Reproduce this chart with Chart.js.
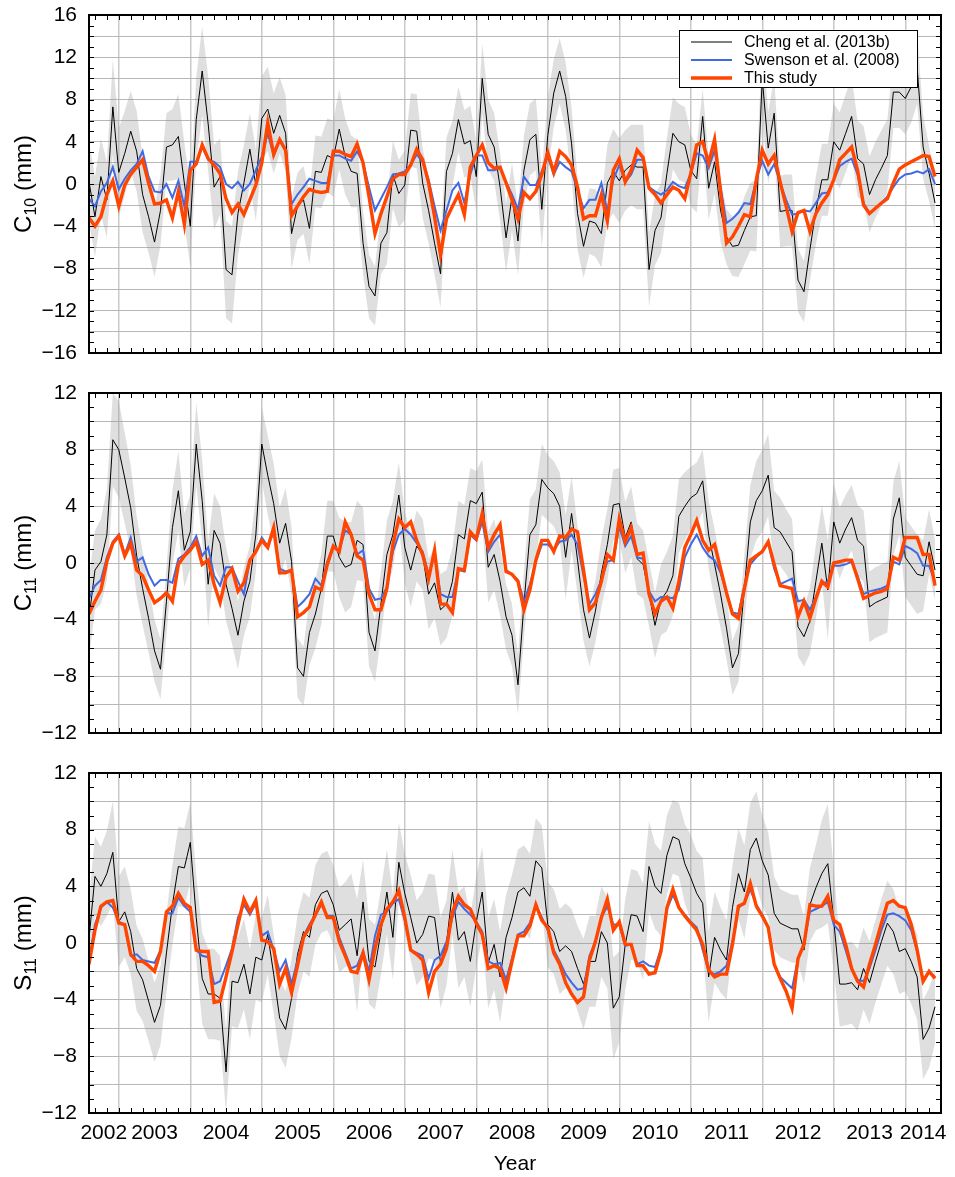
<!DOCTYPE html>
<html lang="en">
<head>
  <meta charset="UTF-8" />
  <title>C10, C11, S11 comparison</title>
  <script src="https://cdn.jsdelivr.net/npm/chart.js"></script>
  <style>
body {
  margin: 0;
  background: #fff;
}

.panel {
  position: absolute;
  left: 0;
  width: 955px;
}

#p1 { top: 0; }
#p2 { top: 380px; }
#p3 { top: 760px; }
  </style>
</head>
<body>
<div class="panel" id="p1"><canvas id="gC10" width="955" height="380"></canvas></div>
<div class="panel" id="p2"><canvas id="gC11" width="955" height="380"></canvas></div>
<div class="panel" id="p3"><canvas id="gS11" width="955" height="417"></canvas></div>

<script>
// monthly samples, Aug 2002 .. Jun 2014
const firstMonth = 2002 + 7 / 12;
const nMonths = 143;
const months = [];
for (let k = 0; k < nMonths; k++) months.push(firstMonth + k / 12);

// x axis: grid at year starts, labels in the middle of each (visible) year
const yearTicks = [2003, 2004, 2005, 2006, 2007, 2008, 2009, 2010, 2011, 2012, 2013, 2014];
const yearLabels = ['2002', '2003', '2004', '2005', '2006', '2007', '2008', '2009', '2010', '2011', '2012', '2013', '2014'];
const yearLabelPos = [2002.79, 2003.5, 2004.5, 2005.5, 2006.5, 2007.5, 2008.5, 2009.5, 2010.5, 2011.5, 2012.5, 2013.5, 2014.25];

const seriesNames = ['Cheng et al. (2013b)', 'Swenson et al. (2008)', 'This study'];

// ---- C10 (mm) ----
const c10Cheng = [
  0.2, -3.1, 0.7, -1.5, 7.3, 1.1, 2.9, 5.0, 3.1, -1.0,
  -3.1, -5.5, -2.5, 3.5, 3.7, 4.5, 0.1, -4.0, 6.1, 10.7,
  5.7, -0.3, 0.7, -8.1, -8.6, -2.8, 0.1, 3.3, -0.1, 6.2,
  7.1, 4.8, 6.5, 4.8, -4.7, -2.1, -1.5, -4.2, 1.2, 1.1,
  2.7, 2.4, 5.2, 2.6, 1.2, 1.0, -5.6, -9.7, -10.6, -5.6,
  -4.6, 0.9, -0.9, -0.1, 5.1, 5.0, 0.1, -2.5, -5.6, -8.5,
  1.2, 2.9, 6.1, 3.8, 4.1, 0.7, 10.0, 4.7, 3.5, -0.3,
  -5.1, -1.2, -5.4, 1.3, 4.2, 4.7, -2.4, 4.6, 8.6, 10.7,
  8.3, 3.8, -2.8, -5.9, -3.5, -3.7, -4.7, 0.1, 1.2, 0.3,
  1.3, 1.8, 1.6, 1.6, -8.1, -4.4, -3.2, 1.0, 4.8, 4.0,
  3.7, 1.3, 0.5, 6.4, -0.4, 2.1, -2.5, -5.0, -5.9, -5.8,
  -4.4, -3.1, -3.0, 10.0, 3.4, 6.7, -2.6, -2.5, -2.5, -9.1,
  -10.2, -6.2, -2.5, 0.4, 0.4, 4.0, 3.2, 4.8, 6.4, 2.4,
  1.9, -1.0, 0.4, 1.5, 2.7, 8.7, 8.7, 8.1, 9.2, 11.0,
  3.5, 1.0, -1.8
];
const c10Err = [
  3.8, 3.8, 3.6, 3.6, 4.5, 4.2, 4.0, 3.8, 3.8, 3.6,
  3.4, 3.3, 3.3, 3.2, 3.4, 4.0, 3.8, 3.8, 4.0, 4.2,
  4.5, 4.0, 3.6, 4.6, 4.6, 4.0, 3.6, 3.4, 3.4, 4.0,
  4.0, 3.8, 3.6, 3.6, 3.3, 3.2, 3.2, 3.4, 3.4, 3.4,
  3.5, 3.6, 3.8, 3.6, 3.4, 3.2, 3.0, 3.0, 2.8, 2.9,
  3.0, 3.2, 3.2, 3.3, 3.5, 3.5, 3.3, 3.1, 3.0, 3.2,
  3.2, 3.1, 3.1, 3.2, 3.3, 3.3, 3.3, 3.3, 3.2, 3.2,
  3.2, 3.2, 3.2, 3.3, 3.4, 3.4, 3.6, 3.6, 3.2, 3.1,
  3.2, 3.4, 3.4, 3.0, 3.1, 3.2, 3.2, 3.6, 4.0, 4.0,
  3.8, 3.8, 4.0, 4.0, 3.5, 3.3, 3.3, 3.4, 3.4, 3.6,
  3.6, 3.4, 3.2, 2.6, 3.0, 3.0, 3.0, 2.6, 2.8, 3.0,
  3.2, 3.2, 3.4, 3.6, 3.4, 3.4, 3.4, 3.4, 3.4, 3.0,
  2.9, 3.0, 3.2, 3.4, 3.4, 3.6, 3.6, 3.7, 3.7, 3.6,
  3.6, 3.6, 3.6, 3.6, 3.4, 3.4, 3.4, 3.4, 3.4, 3.4,
  3.0, 2.6, 2.4
];
const c10Swenson = [
  -1.4, -2.1, -0.7, 0.1, 1.6, -0.5, 0.5, 1.3, 1.9, 3.1,
  0.7, -0.7, -0.8, 0.0, -1.3, 0.3, -2.1, 2.1, 2.1, 3.5,
  2.3, 2.1, 1.6, 0.0, -0.4, 0.2, -0.6, 0.0, 1.3, 2.6,
  4.8, 2.7, 4.2, 3.1, -1.9, -1.0, -0.3, 0.5, 0.3, 0.1,
  0.1, 2.7, 2.7, 2.4, 2.2, 3.1, 2.0, -0.3, -2.5, -1.4,
  -0.3, 0.9, 1.0, 1.2, 1.8, 2.8, 2.1, 0.4, -2.1, -4.4,
  -2.5, -0.6, 0.1, -1.8, 0.9, 2.7, 2.7, 1.3, 1.3, 1.5,
  0.2, -1.0, -2.4, 0.7, -0.1, -0.1, 1.2, 2.6, 0.9, 2.1,
  1.6, 1.2, -0.6, -2.3, -1.5, -1.5, 0.1, -2.6, 0.4, 1.8,
  0.2, 0.9, 2.3, 2.3, -0.3, -0.7, -1.0, -0.6, 0.2, -0.2,
  -0.4, 1.0, 2.9, 2.7, 1.5, 3.2, -0.3, -3.7, -3.3, -2.7,
  -1.8, -1.9, 0.4, 2.2, 0.9, 1.9, 0.1, -1.5, -2.9, -2.8,
  -2.5, -2.6, -1.8, -0.9, -0.8, 0.4, 1.7, 2.1, 2.4, 0.9,
  -1.8, -2.8, -2.3, -1.8, -1.2, -0.3, 0.5, 0.9, 1.0, 1.2,
  1.0, 1.4, 0.0
];
const c10This = [
  -3.2, -4.0, -3.1, -1.0, 0.3, -2.1, -0.1, 0.9, 1.6, 2.3,
  0.1, -1.9, -1.8, -1.5, -3.2, -0.7, -3.8, 1.3, 1.9, 3.7,
  2.4, 1.8, 1.0, -1.4, -2.7, -1.9, -2.9, -1.5, -0.1, 2.0,
  5.8, 2.8, 4.2, 3.2, -3.0, -2.1, -1.2, -0.5, -0.7, -0.8,
  -0.7, 3.1, 3.1, 2.8, 2.6, 3.8, 2.0, -1.2, -4.7, -2.8,
  -1.2, 0.5, 0.9, 0.9, 1.8, 3.3, 2.3, 0.1, -3.1, -6.7,
  -3.3, -2.1, -1.0, -2.9, 1.6, 2.7, 3.7, 2.0, 1.5, 1.6,
  0.1, -1.5, -3.3, -0.8, -1.4, -0.7, 0.9, 3.0, 1.1, 3.1,
  2.6, 1.8, -0.3, -3.3, -3.0, -3.0, -1.0, -3.5, 1.3, 2.4,
  0.2, 1.3, 3.2, 2.5, -0.4, -1.0, -1.8, -1.0, -0.3, -0.6,
  -1.4, 1.0, 3.7, 4.0, 2.0, 4.2, -0.7, -5.6, -5.0, -4.0,
  -2.9, -3.1, 0.4, 3.2, 1.9, 2.7, 0.2, -2.1, -4.5, -2.7,
  -2.5, -4.5, -2.8, -1.8, -1.0, 0.4, 2.3, 2.9, 3.5, 1.3,
  -2.0, -2.8, -2.3, -1.8, -1.4, 0.1, 1.4, 1.8, 2.1, 2.4,
  2.7, 2.6, 0.7
];

// ---- C11 (mm) ----
const c11Cheng = [
  -3.9, -0.5, 0.1, 2.0, 8.7, 8.0, 6.0, 3.9, 0.5, -1.8,
  -3.9, -6.2, -7.5, -2.7, 2.5, 5.1, 0.9, 2.2, 8.4, 4.4,
  -1.5, 2.3, 1.4, -1.5, -3.2, -5.1, -2.7, -1.3, 2.0, 8.4,
  6.2, 4.2, 1.4, 2.8, 0.1, -7.4, -8.0, -4.9, -3.6, -1.8,
  1.9, 1.9, 0.4, -0.3, -0.1, 1.6, 1.3, -4.9, -6.2, -2.9,
  0.6, 2.0, 4.8, 1.1, -0.5, 1.2, 0.6, -2.2, -1.4, -3.3,
  -2.9, -1.3, 2.0, 1.7, 4.4, 4.2, 5.0, -0.3, 0.6, -1.3,
  -3.8, -5.1, -8.6, -2.9, 2.0, 2.7, 5.9, 5.3, 4.9, 4.0,
  0.4, 3.5, 0.2, -3.3, -5.3, -3.4, -0.7, 1.3, 4.1, 4.2,
  1.8, 2.9, 0.3, -0.1, -2.2, -4.4, -2.6, -2.0, -0.9, 3.3,
  4.0, 4.6, 4.9, 5.8, 2.0, -0.1, -2.2, -4.6, -7.4, -6.4,
  -1.8, 2.9, 4.4, 5.1, 6.2, 2.5, 2.2, 1.5, 0.8, -4.5,
  -5.2, -4.1, -1.3, 1.4, -1.9, 2.9, 1.4, 2.4, 3.2, 1.6,
  1.2, -3.1, -2.8, -2.6, -2.4, 3.1, 4.6, 0.4, -0.2, -0.8,
  -0.9, 1.5, -0.5
];
const c11Err = [
  2.8, 2.8, 3.0, 3.2, 3.3, 3.4, 3.2, 3.0, 2.8, 2.6,
  2.4, 2.2, 2.1, 2.4, 2.6, 2.8, 2.6, 2.6, 2.9, 2.9,
  3.0, 2.6, 2.6, 2.6, 2.5, 2.4, 2.4, 2.5, 2.6, 2.6,
  2.8, 2.8, 2.5, 2.5, 2.4, 2.1, 2.1, 2.3, 2.4, 2.5,
  2.5, 2.5, 2.8, 3.2, 3.0, 2.8, 2.6, 2.4, 2.2, 2.3,
  2.4, 2.4, 2.3, 2.5, 2.6, 2.5, 2.5, 2.5, 2.5, 2.5,
  2.4, 2.4, 2.4, 2.4, 2.3, 2.3, 2.3, 2.5, 2.5, 2.4,
  2.3, 2.2, 2.1, 2.4, 2.5, 2.5, 2.5, 2.3, 2.3, 2.4,
  3.0, 2.6, 2.4, 2.2, 2.0, 2.2, 2.4, 2.5, 2.5, 2.5,
  2.5, 2.5, 2.5, 2.4, 2.3, 2.3, 2.5, 2.8, 2.8, 2.6,
  2.4, 2.2, 2.2, 2.2, 2.4, 2.5, 2.4, 2.2, 1.9, 2.0,
  2.4, 2.6, 2.8, 2.9, 2.9, 2.6, 2.4, 2.3, 2.3, 2.1,
  2.1, 2.3, 2.6, 2.7, 3.5, 2.7, 2.5, 2.4, 2.3, 2.5,
  2.5, 2.5, 2.5, 2.5, 2.5, 2.6, 2.6, 2.8, 2.8, 2.8,
  2.5, 2.3, 2.1
];
const c11Swenson = [
  -2.5, -1.6, -1.2, 0.4, 1.5, 2.0, 0.6, 1.8, 0.1, 0.4,
  -0.8, -1.6, -1.2, -1.2, -1.4, 0.3, 0.6, 1.1, 1.9, 0.5,
  1.1, -0.9, -1.6, -0.3, -0.3, -1.3, -2.2, 0.2, 0.8, 1.8,
  1.2, 2.2, -0.4, -0.6, -0.5, -3.1, -2.7, -2.2, -1.1, -1.6,
  0.1, 1.2, 0.9, 2.3, 2.0, 0.6, 0.9, -1.8, -2.6, -2.5,
  -1.7, 0.8, 2.0, 2.4, 2.0, 1.4, 0.8, -0.8, 0.6, -2.2,
  -2.4, -2.4, -0.5, -0.6, 2.0, 1.6, 2.9, 0.8, 1.5, 2.0,
  -0.5, -0.8, -1.2, -2.7, -1.5, 0.1, 1.3, 1.3, 0.9, 1.5,
  1.6, 2.0, 1.3, -0.9, -2.9, -2.2, -1.2, 0.1, 0.2, 2.6,
  1.2, 1.9, 0.4, 0.3, -2.0, -2.7, -2.4, -2.4, -2.5, -1.9,
  0.4, 1.3, 2.0, 1.1, 0.5, 0.2, -0.7, -2.1, -3.5, -3.6,
  -1.6, -0.1, 0.4, 0.8, 1.5, -0.4, -1.5, -1.3, -1.1, -2.7,
  -2.6, -3.3, -2.4, -1.5, -1.3, -0.2, -0.2, -0.1, 0.1, -0.9,
  -2.2, -2.0, -1.9, -1.8, -1.6, 0.1, -0.1, 1.2, 1.0, 0.7,
  -0.2, -0.2, -1.3
];
const c11This = [
  -3.6, -2.7, -1.9, 0.1, 1.4, 1.9, 0.5, 1.4, -0.5, -0.9,
  -1.9, -2.8, -2.5, -2.1, -2.7, -0.1, 0.5, 0.9, 1.5, -0.1,
  0.2, -1.5, -2.8, -1.0, -0.4, -2.0, -1.4, 0.2, 0.8, 1.6,
  1.1, 2.5, -0.7, -0.7, -0.5, -3.8, -3.5, -3.1, -1.7, -1.9,
  -0.1, 1.2, 0.8, 2.9, 2.0, 0.5, 0.2, -2.2, -3.3, -3.3,
  -1.8, 1.3, 3.1, 2.5, 2.9, 1.6, 0.6, -1.1, 0.9, -2.9,
  -2.9, -3.5, -0.4, -0.5, 2.2, 1.7, 3.5, 1.1, 2.0, 2.7,
  -0.6, -0.8, -1.3, -3.3, -1.9, 0.2, 1.6, 1.6, 0.8, 1.9,
  1.8, 2.4, 2.2, -0.5, -3.3, -2.8, -1.3, 0.6, 0.2, 3.1,
  1.5, 2.5, 0.6, 0.7, -2.2, -3.6, -2.7, -2.4, -3.2, -1.3,
  1.1, 2.0, 3.0, 1.6, 0.9, 1.3, -0.4, -2.1, -3.6, -3.9,
  -1.8, 0.2, 0.5, 0.8, 1.5, -0.1, -1.6, -1.7, -1.8, -3.8,
  -2.7, -3.9, -2.5, -1.3, -1.7, 0.0, 0.1, 0.2, 0.2, -1.1,
  -2.5, -2.3, -2.1, -2.0, -1.8, 0.4, 0.2, 1.8, 1.8, 1.8,
  0.6, 0.6, -1.6
];

// ---- S11 (mm) ----
const s11Cheng = [
  0.3, 4.7, 4.0, 4.9, 6.4, 1.5, 2.2, 0.8, -1.8, -2.6,
  -4.1, -5.6, -4.4, -0.7, 2.7, 5.4, 5.3, 7.1, 1.8, -2.5,
  -3.6, -3.6, -3.9, -9.1, -2.7, -2.8, -1.5, -3.6, -1.0, -1.2,
  0.6, -2.2, -5.3, -6.1, -3.9, -0.8, 0.8, 0.4, 2.7, 3.5,
  3.7, 2.7, 0.9, 1.3, 1.7, -0.9, 2.9, -1.3, -1.7, 0.8,
  3.6, 0.4, 5.7, 3.5, 1.8, 0.0, 0.6, 1.9, 1.8, -1.4,
  0.0, 3.6, 0.2, 0.8, -1.3, 1.5, 3.6, -1.4, -0.1, -2.4,
  0.4, 1.8, 3.6, 3.9, 3.3, 5.8, 5.3, 1.3, 0.8, -0.6,
  -0.2, -0.6, -1.8, -2.9, -1.3, -1.3, 0.8, 0.0, -4.6, -3.8,
  -0.1, 2.0, 1.9, 0.8, 5.4, 4.0, 3.5, 6.2, 7.5, 7.3,
  5.6, 4.6, 3.5, 2.8, -2.4, 0.4, -0.5, -1.2, 2.5, 4.9,
  3.6, 6.6, 7.4, 5.8, 4.8, 2.1, 1.4, 1.2, 1.0, 1.0,
  -0.5, 2.7, 3.9, 4.9, 5.6, 1.6, -2.9, -2.9, -2.8, -3.3,
  -1.8, -2.8, -1.3, 0.1, 1.4, 0.8, -0.6, -0.4, -1.3, -2.4,
  -6.8, -6.0, -4.5
];
const s11Err = [
  2.8, 2.8, 2.8, 3.0, 3.6, 3.2, 3.2, 3.0, 3.0, 2.9,
  2.8, 2.8, 2.8, 2.8, 2.8, 2.8, 2.8, 2.8, 3.0, 3.2,
  3.2, 3.2, 3.0, 2.9, 3.2, 3.2, 3.2, 3.2, 3.0, 3.0,
  2.8, 2.8, 2.7, 2.7, 2.8, 2.8, 2.8, 2.8, 2.8, 2.8,
  2.8, 2.8, 3.0, 3.0, 3.2, 4.0, 3.0, 3.0, 3.0, 3.0,
  3.0, 3.0, 2.8, 2.8, 3.0, 3.0, 3.0, 3.0, 3.0, 3.2,
  3.0, 3.0, 3.4, 3.2, 3.2, 3.2, 3.2, 3.2, 3.2, 3.2,
  3.0, 3.0, 3.0, 3.0, 3.0, 3.0, 3.0, 3.0, 3.0, 3.0,
  3.0, 3.0, 3.0, 3.2, 3.2, 3.2, 3.2, 3.2, 3.6, 3.2,
  3.2, 3.2, 3.2, 3.4, 3.2, 3.0, 3.0, 2.8, 2.6, 2.6,
  2.8, 3.0, 3.0, 3.2, 3.2, 3.2, 3.0, 2.8, 3.0, 3.2,
  3.3, 3.3, 3.3, 3.2, 3.0, 2.6, 2.4, 2.4, 2.4, 2.4,
  2.4, 2.6, 3.0, 3.8, 4.2, 3.6, 3.0, 2.9, 2.9, 2.9,
  2.9, 2.9, 2.9, 3.0, 3.0, 3.0, 3.0, 3.0, 3.0, 3.0,
  2.8, 2.8, 2.6
];
const s11Swenson = [
  -1.3, 1.3, 2.5, 2.9, 2.5, 1.5, 1.3, -0.9, -0.8, -1.2,
  -1.3, -1.4, -0.5, 2.1, 2.1, 3.2, 2.6, 2.2, -0.5, -0.9,
  -1.0, -2.9, -2.7, -1.6, -0.4, 1.8, 2.7, 2.0, 2.8, 0.5,
  0.8, -0.5, -2.0, -1.2, -2.9, -1.2, 0.5, 1.3, 2.0, 2.7,
  1.9, 1.9, 0.4, -0.7, -1.8, -1.6, -0.6, -2.0, 0.5, 2.0,
  2.2, 2.8, 3.1, 1.6, -0.5, -0.7, -0.9, -2.5, -1.2, -0.9,
  0.1, 1.8, 2.9, 2.4, 2.0, 1.5, 0.8, -1.3, -1.5, -1.4,
  -2.6, -1.1, 0.6, 0.8, 1.4, 2.7, 1.8, 0.9, -0.5, -1.3,
  -2.2, -2.8, -3.3, -3.2, -0.9, 0.1, 1.8, 2.6, 1.3, 1.3,
  -0.2, -0.1, -1.5, -1.3, -1.6, -1.7, -0.4, 2.4, 3.4, 2.5,
  2.0, 1.5, 1.1, -0.5, -2.0, -2.2, -2.0, -1.6, 0.1, 2.5,
  2.8, 3.8, 2.7, 2.0, 1.1, -1.5, -2.4, -2.8, -3.2, -1.1,
  0.0, 2.2, 2.4, 2.6, 2.9, 1.3, 0.8, -0.5, -1.9, -2.6,
  -2.7, -1.8, -0.5, 0.9, 2.0, 2.1, 1.9, 1.6, 0.9, -0.6,
  -2.7, -2.0, -2.4
];
const s11This = [
  -1.5, 0.9, 2.6, 2.9, 3.0, 1.4, 1.3, -0.8, -1.3, -1.3,
  -1.6, -2.0, -0.6, 2.2, 2.6, 3.5, 2.8, 2.5, -0.5, -0.6,
  -0.6, -4.2, -4.1, -2.4, -0.6, 1.3, 3.1, 2.2, 3.0, 0.2,
  0.1, -0.4, -2.9, -1.8, -3.5, -1.6, 0.4, 1.1, 2.0, 2.9,
  1.8, 1.8, 0.1, -0.9, -2.0, -2.1, -0.7, -2.6, -0.4, 1.3,
  2.4, 2.9, 3.7, 1.8, -0.5, -0.8, -1.2, -3.5, -2.0, -1.5,
  -0.4, 2.2, 3.3, 2.7, 2.4, 1.4, 0.6, -1.8, -1.6, -1.8,
  -3.2, -1.3, 0.5, 0.5, 1.2, 2.7, 1.6, 1.1, -0.7, -1.5,
  -2.8, -3.6, -4.2, -3.8, -1.2, 0.1, 1.8, 3.1, 0.9, 1.5,
  -0.1, -0.1, -1.6, -1.6, -2.2, -2.1, -0.6, 2.5, 3.8, 2.5,
  1.9, 1.4, 0.9, -0.1, -1.9, -2.4, -2.2, -2.2, -0.1, 2.6,
  2.8, 4.2, 2.6, 1.9, 1.1, -1.5, -2.5, -3.4, -4.6, -1.1,
  -0.1, 2.7, 2.6, 2.6, 3.3, 1.6, 1.3, -0.1, -1.8, -2.7,
  -3.1, -1.5, -0.1, 1.4, 2.8, 3.0, 2.6, 2.5, 1.3, -0.5,
  -2.7, -2.0, -2.5
];

const FONT = "'Liberation Sans', Arial, Helvetica, sans-serif";
const TICK = 5;

const pts = (vals) => vals.map((v, k) => ({ x: months[k], y: v }));
const fmtY = (v) => (v < 0 ? '\u2212' + Math.abs(v) : String(v));

// ejes enmarcados, ticks hacia dentro, título del eje y con subíndice, leyenda
const panelDeco = {
  id: 'panelDeco',
  afterDraw(chart, args, opts) {
    const { ctx, chartArea: a, scales: { x, y } } = chart;
    ctx.save();

    ctx.strokeStyle = '#000';
    ctx.lineWidth = 1;
    ctx.beginPath();
    for (let v = Math.ceil(y.min); v <= y.max; v++) {
      const py = Math.round(y.getPixelForValue(v)) + 0.5;
      ctx.moveTo(a.left, py); ctx.lineTo(a.left + TICK, py);
      ctx.moveTo(a.right, py); ctx.lineTo(a.right - TICK, py);
    }
    for (let m = Math.ceil(x.min * 6); m / 6 <= x.max; m++) {
      const px = Math.round(x.getPixelForValue(m / 6)) + 0.5;
      ctx.moveTo(px, a.top); ctx.lineTo(px, a.top + TICK);
      ctx.moveTo(px, a.bottom); ctx.lineTo(px, a.bottom - TICK);
    }
    ctx.stroke();

    ctx.lineWidth = 2;
    ctx.strokeRect(a.left, a.top, a.right - a.left, a.bottom - a.top);

    // y title, rotated
    const big = '24px ' + FONT, small = '16px ' + FONT;
    ctx.fillStyle = '#000';
    ctx.textBaseline = 'alphabetic';
    ctx.font = big;
    const w1 = ctx.measureText(opts.title).width;
    const w3 = ctx.measureText(' (mm)').width;
    ctx.font = small;
    const w2 = ctx.measureText(opts.sub).width;
    const total = w1 + w2 + w3;
    ctx.translate(31, (a.top + a.bottom) / 2);
    ctx.rotate(-Math.PI / 2);
    let cx = -total / 2;
    ctx.font = big;
    ctx.fillText(opts.title, cx, 0);
    cx += w1;
    ctx.font = small;
    ctx.fillText(opts.sub, cx, 5);
    cx += w2;
    ctx.font = big;
    ctx.fillText(' (mm)', cx, 0);
    ctx.setTransform(1, 0, 0, 1, 0, 0);

    if (opts.legend) {
      const lx = a.right - 262, ly = a.top + 15, lw = 238, lh = 57;
      ctx.fillStyle = '#fff';
      ctx.fillRect(lx, ly, lw, lh);
      ctx.strokeStyle = '#000';
      ctx.lineWidth = 1;
      ctx.strokeRect(lx + 0.5, ly + 0.5, lw, lh);
      const items = chart.data.datasets.filter(d => d.label);
      ctx.font = '16px ' + FONT;
      ctx.textBaseline = 'middle';
      items.forEach((d, i) => {
        const rowY = ly + 12 + i * 18;
        ctx.strokeStyle = d.borderColor;
        ctx.lineWidth = d.borderWidth;
        ctx.beginPath();
        ctx.moveTo(lx + 12, rowY);
        ctx.lineTo(lx + 53, rowY);
        ctx.stroke();
        ctx.fillStyle = '#000';
        ctx.fillText(d.label, lx + 65, rowY + 1);
      });
    }
    ctx.restore();
  }
};

function makePanel(id, cfg) {
  const upper = cfg.cheng.map((v, k) => v + cfg.err[k]);
  const lower = cfg.cheng.map((v, k) => v - cfg.err[k]);

  return new Chart(document.getElementById(id), {
    type: 'line',
    data: {
      datasets: [
        { data: pts(upper), borderWidth: 0, borderColor: 'rgba(0,0,0,0)', backgroundColor: 'rgba(150,150,150,0.3)', fill: '+1', order: 4 },
        { data: pts(lower), borderWidth: 0, borderColor: 'rgba(0,0,0,0)', fill: false, order: 4 },
        { label: seriesNames[0], data: pts(cfg.cheng), borderColor: '#000000', borderWidth: 1, fill: false, order: 2 },
        { label: seriesNames[1], data: pts(cfg.swenson), borderColor: '#4169E1', borderWidth: 2, fill: false, order: 1 },
        { label: seriesNames[2], data: pts(cfg.thisStudy), borderColor: '#FF4500', borderWidth: 3.4, fill: false, order: 0 }
      ]
    },
    options: {
      responsive: false,
      animation: false,
      events: [],
      elements: { point: { radius: 0 }, line: { tension: 0 } },
      layout: { padding: { top: cfg.padTop, right: 14, bottom: 0, left: 0 } },
      plugins: {
        legend: { display: false },
        tooltip: { enabled: false },
        panelDeco: { title: cfg.title, sub: cfg.sub, legend: cfg.legend }
      },
      scales: {
        x: {
          type: 'linear',
          min: firstMonth,
          max: 2014.5,
          afterBuildTicks: (s) => {
            s.ticks = yearTicks.concat(yearLabelPos).sort((p, q) => p - q).map(v => ({ value: v }));
          },
          afterFit: (s) => {
            s.height = cfg.xHeight;
            s.paddingLeft = 0;
            s.paddingRight = 0;
          },
          grid: {
            color: (c) => (yearTicks.includes(c.tick.value) ? '#c9c9c9' : 'rgba(0,0,0,0)'),
            lineWidth: 1.5,
            drawTicks: false
          },
          border: { display: false },
          ticks: {
            display: cfg.showX,
            autoSkip: false,
            maxRotation: 0,
            padding: 8,
            color: '#000',
            font: { family: FONT, size: 21 },
            callback: (v) => {
              const i = yearLabelPos.indexOf(v);
              return i >= 0 ? yearLabels[i] : '';
            }
          },
          title: {
            display: cfg.showX,
            text: 'Year',
            color: '#000',
            font: { family: FONT, size: 21 },
            padding: { top: 0, bottom: 0 }
          }
        },
        y: {
          min: -cfg.lim,
          max: cfg.lim,
          afterBuildTicks: (s) => {
            const t = [];
            for (let v = -cfg.lim; v <= cfg.lim; v += 2) t.push({ value: v });
            s.ticks = t;
          },
          afterFit: (s) => {
            s.width = 89;
            s.paddingTop = 0;
            s.paddingBottom = 0;
          },
          grid: { color: '#b7b7b7', lineWidth: 1, drawTicks: false },
          border: { display: false },
          ticks: {
            autoSkip: false,
            padding: 12,
            color: '#000',
            font: { family: FONT, size: 21 },
            callback: (v) => (v % 4 === 0 ? fmtY(v) : '')
          }
        }
      }
    },
    plugins: [panelDeco]
  });
}

makePanel('gC10', {
  cheng: c10Cheng, err: c10Err, swenson: c10Swenson, thisStudy: c10This,
  lim: 16, title: 'C', sub: '10', legend: true, showX: false, padTop: 15, xHeight: 27
});
makePanel('gC11', {
  cheng: c11Cheng, err: c11Err, swenson: c11Swenson, thisStudy: c11This,
  lim: 12, title: 'C', sub: '11', legend: false, showX: false, padTop: 13, xHeight: 27
});
makePanel('gS11', {
  cheng: s11Cheng, err: s11Err, swenson: s11Swenson, thisStudy: s11This,
  lim: 12, title: 'S', sub: '11', legend: false, showX: true, padTop: 13, xHeight: 64
});
</script>

</body>
</html>
